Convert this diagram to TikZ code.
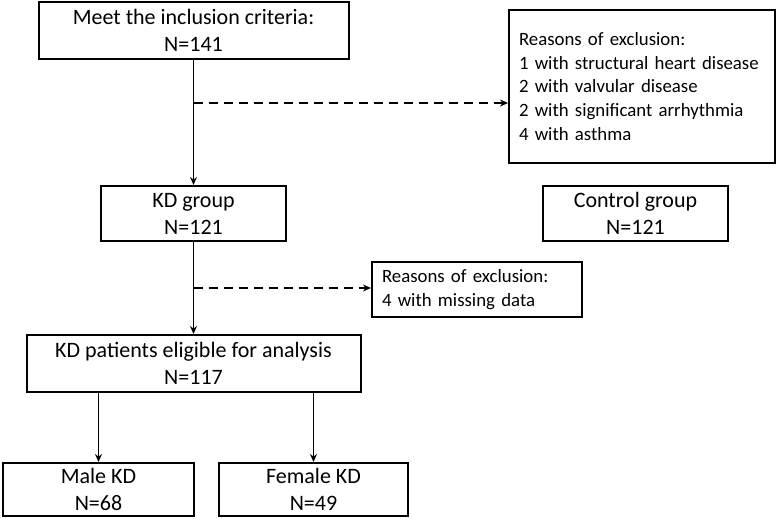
\documentclass[tikz,border=0pt]{standalone}
\usepackage{fontspec}
\setmainfont{Carlito}
\usetikzlibrary{arrows.meta,calc}
\begin{document}
\begin{tikzpicture}[x=1pt,y=-1pt,
  box/.style={draw,line width=2pt,inner sep=0pt,align=center,font=\fontsize{22}{27}\selectfont},
  rbox/.style={draw,line width=2pt,inner xsep=10pt,inner ysep=0pt,align=left,font=\fontsize{18.8}{23.6}\selectfont},
  arr/.style={line width=1.8pt,-{Stealth[length=8pt,width=7pt]}},
  darr/.style={line width=1.8pt,dash pattern=on 9pt off 6pt,-{Stealth[length=8pt,width=7pt]}}]
\useasboundingbox (0,0) rectangle (777,519);
\node[box,minimum width=310pt,minimum height=57pt] (b1) at (193.5,30.5) {Meet the inclusion criteria:\\N=141};
\node[rbox,text width=246pt,minimum height=153pt] (r1) at (642,86.5) {Reasons of exclusion:\\1 with structural heart disease\\2 with valvular disease\\2 with significant arrhythmia\\4 with asthma};
\node[box,minimum width=185pt,minimum height=55pt] (kd) at (193.5,213.5) {KD group\\N=121};
\node[box,minimum width=185pt,minimum height=55pt] (ctrl) at (635.5,213.5) {Control group\\N=121};
\node[rbox,text width=190pt,minimum height=55pt] (r2) at (477,289.5) {Reasons of exclusion:\\4 with missing data};
\node[box,minimum width=334pt,minimum height=57pt] (pat) at (193.5,363.5) {KD patients eligible for analysis\\N=117};
\node[box,minimum width=191pt,minimum height=53pt] (male) at (98.5,489.5) {Male KD\\N=68};
\node[box,minimum width=189pt,minimum height=53pt] (fem) at (313.5,489.5) {Female KD\\N=49};
\coordinate (d1) at (193.5,103);
\coordinate (d2) at (193.5,288);
\draw[arr] (b1) -- (kd);
\draw[darr] (d1) -- (d1 -| r1.west);
\draw[arr] (kd) -- (pat);
\draw[darr] (d2) -- (d2 -| r2.west);
\draw[arr] (pat.south -| male.north) -- (male);
\draw[arr] (pat.south -| fem.north) -- (fem);
\end{tikzpicture}
\end{document}
